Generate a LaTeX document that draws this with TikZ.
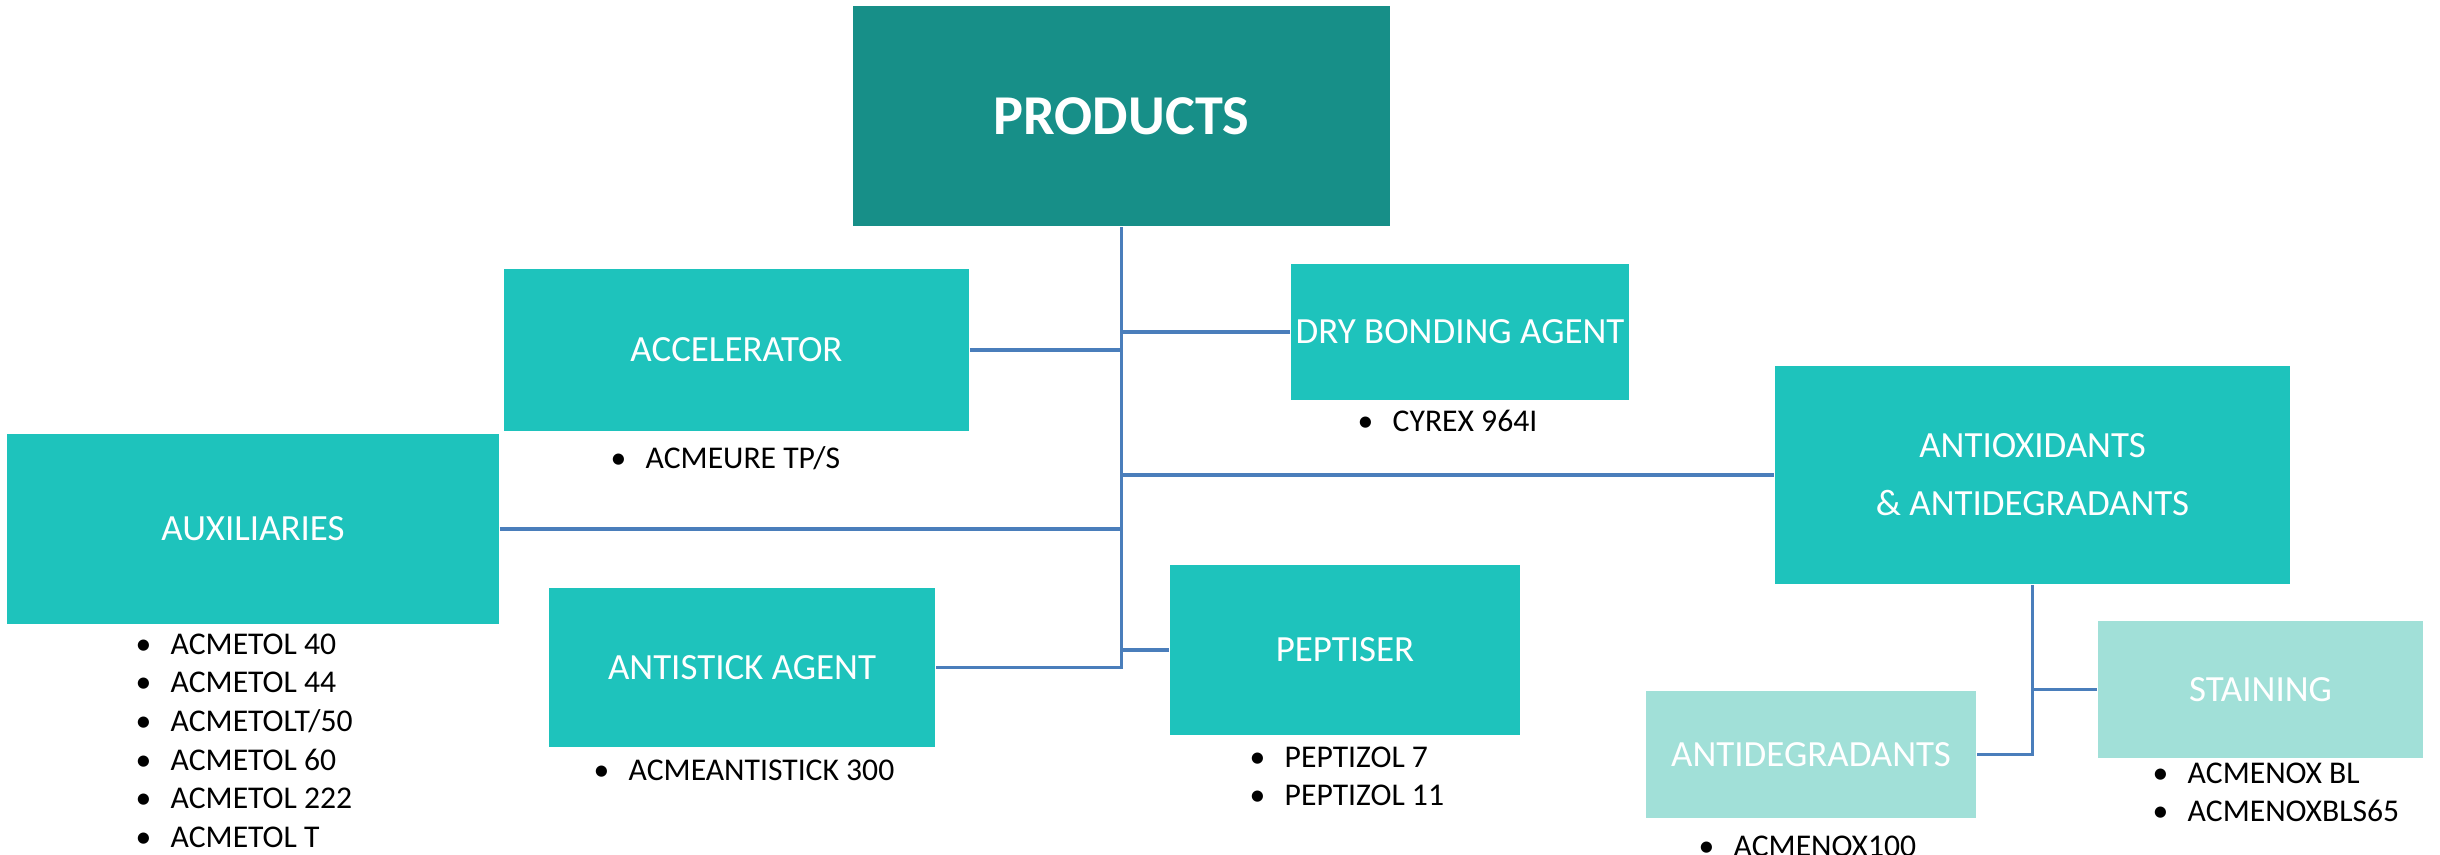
\documentclass[tikz,border=0pt]{standalone}
\usepackage{fontspec}
\setmainfont{Carlito}
\definecolor{darkteal}{HTML}{178F88}
\definecolor{midteal}{HTML}{1EC3BC}
\definecolor{paleteal}{HTML}{A1E0D8}
\definecolor{linkblue}{HTML}{4A7EBB}
\newcommand{\itembul}{\makebox[0.35cm][l]{•}}

\begin{document}
\begin{tikzpicture}[x=0.01cm, y=-0.01cm,
  catbox/.style={fill=midteal, text=white, inner sep=0pt, align=center,
    font=\fontsize{10.5}{16.5}\selectfont},
  subbox/.style={catbox, fill=paleteal},
  items/.style={anchor=north west, inner sep=0pt, align=left,
    font=\fontsize{9}{11}\selectfont},
  link/.style={draw=linkblue, line width=0.9pt}]
{\centering
\useasboundingbox (0,0) rectangle (2440,854);

\node[catbox, fill=darkteal, minimum width=5.37cm, minimum height=2.2cm,
  font=\fontsize{16}{19}\selectfont\bfseries] (prod) at (1121.5,116) {PRODUCTS};
\node[catbox, minimum width=4.65cm, minimum height=1.62cm] (accel) at (736.5,350) {ACCELERATOR};
\node[catbox, minimum width=3.38cm, minimum height=1.35cm] (dry) at (1460,332) {DRY BONDING AGENT};
\node[catbox, minimum width=4.92cm, minimum height=1.9cm] (aux) at (253,529) {AUXILIARIES};
\node[catbox, minimum width=5.15cm, minimum height=2.18cm] (antiox) at (2032.5,475) {ANTIOXIDANTS\\\& ANTIDEGRADANTS};
\node[catbox, minimum width=3.86cm, minimum height=1.59cm] (antistick) at (742,667.5) {ANTISTICK AGENT};
\node[catbox, minimum width=3.5cm, minimum height=1.7cm] (pept) at (1345,650) {PEPTISER};
\node[subbox, minimum width=3.3cm, minimum height=1.27cm] (antideg) at (1811,754.5) {ANTIDEGRADANTS};
\node[subbox, minimum width=3.25cm, minimum height=1.37cm] (stain) at (2260.5,689.5) {STAINING};

\node[items] (accellist) at (610,446) {\itembul ACMEURE TP/S};
\node[items] (drylist) at (1357,409) {\itembul CYREX 964I};
\node[items] (auxlist) at (135,633) {\itembul ACMETOL 40\\\itembul ACMETOL 44\\\itembul ACMETOLT/50\\
  \itembul ACMETOL 60\\\itembul ACMETOL 222\\\itembul ACMETOL T};
\node[items] (antisticklist) at (593,759) {\itembul ACMEANTISTICK 300};
\node[items] (peptlist) at (1249,746) {\itembul PEPTIZOL 7\\\itembul PEPTIZOL 11};
\node[items] (antideglist) at (1698,835) {\itembul ACMENOX100};
\node[items] (stainlist) at (2152,762) {\itembul ACMENOX BL\\\itembul ACMENOXBLS65};

\coordinate (trunkend) at (prod.south |- antistick.east);
\draw[link] (prod.south) -- (trunkend) -- (antistick.east);
\draw[link] (accel.east) -- (accel.east -| prod.south);
\draw[link] (dry.west) -- (dry.west -| prod.south);
\draw[link] (aux.east) -- (aux.east -| prod.south);
\draw[link] (antiox.west) -- (antiox.west -| prod.south);
\draw[link] (pept.west) -- (pept.west -| prod.south);
\draw[link] (antiox.south) |- (antideg.east);
\draw[link] (stain.west) -- (stain.west -| antiox.south);

}
\end{tikzpicture}
\end{document}
